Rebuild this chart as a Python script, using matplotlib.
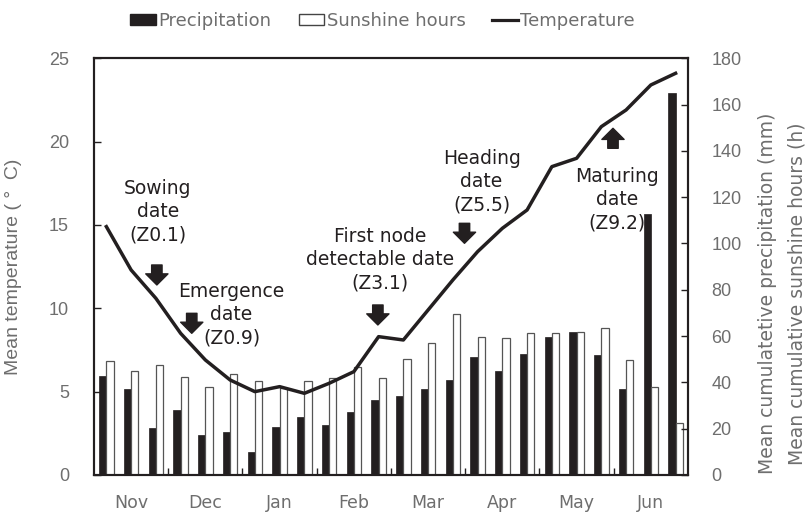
#Precipitation, sunshine hours and temperature over the wheat season

import numpy as np
import matplotlib
matplotlib.use("Agg")
import matplotlib.pyplot as plt
from matplotlib.patches import Patch
from matplotlib.lines import Line2D

#data, one value per ten-day period (3 per month)
months = ['Nov', 'Dec', 'Jan', 'Feb', 'Mar', 'Apr', 'May', 'Jun']
precip = [42.8, 37.0, 20.3, 28.2, 17.3, 18.6, 9.8, 20.7, 25.0, 21.6, 27.2, 32.5,
          34.3, 37.0, 41.2, 50.8, 44.8, 52.1, 59.5, 61.9, 52.0, 37.3, 112.6, 164.9]
sunshine = [49.2, 45.1, 47.5, 42.5, 38.0, 43.8, 40.7, 37.5, 40.7, 42.0, 46.8, 41.9,
            50.3, 57.2, 69.4, 59.8, 59.2, 61.5, 61.2, 61.9, 63.6, 49.8, 38.0, 22.3]
temp = [14.9, 12.3, 10.6, 8.5, 6.9, 5.7, 5.0, 5.3, 4.9, 5.5, 6.2, 8.3,
        8.1, 9.9, 11.7, 13.4, 14.8, 15.9, 18.5, 19.0, 20.9, 21.9, 23.4, 24.1]

gray = '#6e6e6e'
dark = '#231f20'
num_font = 'Liberation Sans'

x = np.arange(len(temp))
w = 0.29

fig = plt.figure(figsize=(8.11, 5.15), dpi=100)
ax = fig.add_axes([0.1159, 0.0777, 0.7324, 0.8091])   # bars, right scale
axt = ax.twinx()                                      # temperature, left scale

ax.bar(x - w/2, precip, w, color=dark, edgecolor=dark, linewidth=0.5)
ax.bar(x + w/2, sunshine, w, color='white', edgecolor='#555555', linewidth=0.9)
axt.plot(x, temp, color=dark, lw=2.5)

ax.set_xlim(-0.5, 23.5)
ax.set_ylim(0, 180)
axt.set_ylim(0, 25)

#right axis (bars)
ax.yaxis.tick_right()
ax.set_yticks(np.arange(0, 181, 20))
ax.tick_params(axis='y', direction='in', length=5, width=1, colors=dark,
               labelcolor=gray, labelsize=13, pad=17)
for t in ax.get_yticklabels():
    t.set_fontfamily(num_font)

#left axis (temperature)
axt.yaxis.tick_left()
axt.set_yticks(np.arange(0, 26, 5))
axt.tick_params(axis='y', direction='in', length=5, width=1, colors=dark,
                labelcolor=gray, labelsize=13, pad=18)
for t in axt.get_yticklabels():
    t.set_fontfamily(num_font)
axt.set_ylabel('Mean temperature ( \u00b0  C)', color=gray, fontsize=14,
               family=num_font)
axt.yaxis.set_label_position('left')
axt.yaxis.set_label_coords(-0.121, 0.5)

#months
ax.set_xticks(np.arange(1, 24, 3))
ax.set_xticklabels(months, color=gray, fontsize=12.5)
ax.set_xticks(np.arange(2.5, 21, 3), minor=True)
ax.tick_params(axis='x', which='major', length=0, pad=14)
ax.tick_params(axis='x', which='minor', direction='in', length=5, width=1, colors=dark)

for a in (ax, axt):
    for s in a.spines.values():
        s.set_linewidth(1.5)
        s.set_color(dark)

fig.text(0.946, 0.43, 'Mean cumulatetive precipitation (mm)', rotation=90,
         ha='center', va='center', color=gray, fontsize=13.5)
fig.text(0.983, 0.43, 'Mean cumulative sunshine hours (h)', rotation=90,
         ha='center', va='center', color=gray, fontsize=13.5)

#growth stage notes
txt = dict(ha='center', va='center', fontsize=13.5, color=dark, linespacing=1.3)
axt.text(2.08, 15.8, 'Sowing\ndate\n(Z0.1)', **txt)
axt.text(5.06, 9.6, 'Emergence\ndate\n(Z0.9)', **txt)
axt.text(11.05, 12.9, 'First node\ndetectable date\n(Z3.1)', **txt)
axt.text(15.16, 17.6, 'Heading\ndate\n(Z5.5)', **txt)
axt.text(20.62, 16.5, 'Maturing\ndate\n(Z9.2)', **txt)

arr = dict(arrowstyle='simple,head_width=1.6,head_length=0.8,tail_width=0.75',
           color=dark, shrinkA=0, shrinkB=0)
for xa, y0, y1 in [(2.04, 12.6, 11.4), (3.45, 9.7, 8.5), (10.97, 10.2, 9.0),
                   (14.47, 15.1, 13.9), (20.47, 19.6, 20.8)]:
    axt.annotate('', xy=(xa, y1), xytext=(xa, y0), arrowprops=arr)

handles = [Patch(facecolor=dark, edgecolor=dark),
           Patch(facecolor='white', edgecolor='#444444'),
           Line2D([0], [0], color=dark, lw=2.3)]
fig.legend(handles, ['Precipitation', 'Sunshine hours', 'Temperature'],
           loc='center', bbox_to_anchor=(0.472, 0.96), ncol=3, frameon=False,
           fontsize=13, labelcolor=gray, handlelength=1.4, handleheight=0.6,
           handletextpad=0.15, columnspacing=1.5)

plt.savefig('out.png', dpi=100)
